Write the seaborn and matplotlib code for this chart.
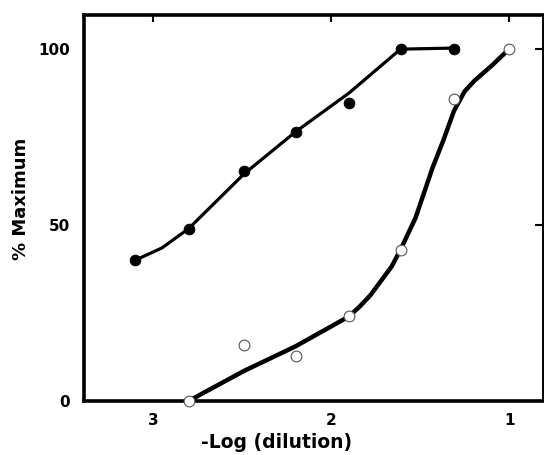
import matplotlib
matplotlib.use('Agg')
import matplotlib.pyplot as plt
import seaborn as sns

# points
filled_x = [3.10, 2.80, 2.49, 2.20, 1.90, 1.61, 1.31]
filled_y = [40, 49, 65.3, 76.4, 84.8, 100, 100]
open_x = [2.80, 2.49, 2.20, 1.90, 1.61, 1.31, 1.00]
open_y = [0, 15.9, 12.8, 24.1, 42.8, 85.9, 100]

# hand-drawn fitted curves
filled_curve_x = [3.10, 2.95, 2.80, 2.49, 2.20, 1.90, 1.61, 1.31]
filled_curve_y = [40, 43.5, 49, 64.5, 76.5, 87.5, 100, 100.3]
open_curve_x = [2.80, 2.49, 2.20, 1.90, 1.84, 1.78, 1.72, 1.66, 1.61, 1.526,
                1.43, 1.37, 1.31, 1.25, 1.195, 1.10, 1.00]
open_curve_y = [0, 8.5, 15.5, 24, 26.8, 30, 34.1, 38.2, 43, 52,
                66.3, 74, 82.4, 88, 91, 95.2, 100]

x_ticks = [3, 2, 1]
y_ticks = [0, 50, 100]

sns.set_style('white')
plt.rcParams['font.family'] = ['DejaVu Sans']
plt.rcParams['font.weight'] = 'bold'
plt.rcParams['text.color'] = 'black'
plt.rcParams['axes.labelcolor'] = 'black'
plt.rcParams['xtick.color'] = 'black'
plt.rcParams['ytick.color'] = 'black'

fig = plt.figure(figsize=(5.44, 4.55), dpi=100)
ax = fig.add_axes([0.154, 0.119, 0.844, 0.848])

sns.lineplot(x=filled_curve_x, y=filled_curve_y, sort=False, color='black',
             linewidth=2.3, ax=ax)
sns.lineplot(x=open_curve_x, y=open_curve_y, sort=False, color='black',
             linewidth=3.2, ax=ax)
sns.scatterplot(x=filled_x, y=filled_y, color='black', s=60, edgecolor='black',
                ax=ax, zorder=5, clip_on=False)
sns.scatterplot(x=open_x, y=open_y, color='white', s=60, edgecolor='#555555',
                linewidth=0.8, ax=ax, zorder=5, clip_on=False)

ax.set_xlim(3.39, 0.81)
ax.set_ylim(0, 109.7)
ax.set_xticks(x_ticks)
ax.set_yticks(y_ticks)
ax.tick_params(axis='both', direction='out', length=5, width=1.5,
               labelsize=11, color='black', labelcolor='black')
ax.tick_params(axis='x', pad=4)
ax.tick_params(axis='y', pad=5)
for lab in ax.get_xticklabels() + ax.get_yticklabels():
    lab.set_fontweight('bold')

# inward ticks on top and right
top = ax.secondary_xaxis('top')
top.set_xticks(x_ticks)
top.tick_params(direction='in', length=5, width=1.5, labeltop=False)
top.spines['top'].set_visible(False)
right = ax.secondary_yaxis('right')
right.set_yticks([50, 100])
right.tick_params(direction='in', length=6, width=1.5, labelright=False)
right.spines['right'].set_visible(False)

for side in ['left', 'bottom', 'top']:
    ax.spines[side].set_linewidth(2.6)
    ax.spines[side].set_color('black')
ax.spines['right'].set_linewidth(1.4)
ax.spines['right'].set_color('black')

ax.set_xlabel('-Log (dilution)', fontsize=13.5, fontweight='bold')
ax.xaxis.set_label_coords(0.42, -0.083)
ax.set_ylabel('% Maximum', fontsize=13, fontweight='bold')
ax.yaxis.set_label_coords(-0.118, 0.523)

fig.savefig('out.png', dpi=100)
